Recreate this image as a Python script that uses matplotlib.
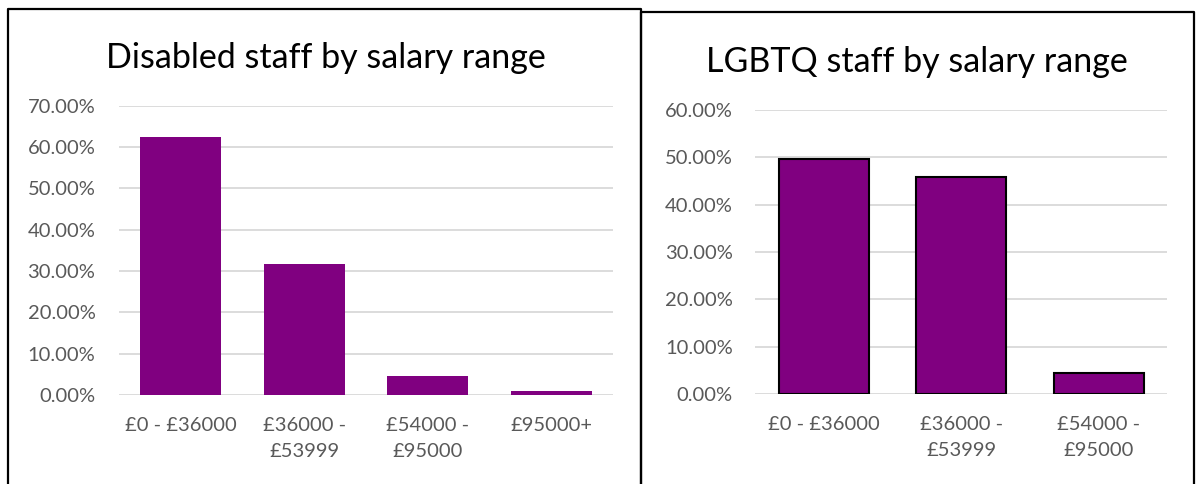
import matplotlib.pyplot as plt
from matplotlib.lines import Line2D
from matplotlib.ticker import FuncFormatter

# data
disabled_labels = ["£0 - £36000", "£36000 -\n£53999", "£54000 -\n£95000", "£95000+"]
disabled_values = [62.4, 31.8, 4.6, 0.9]

lgbtq_labels = ["£0 - £36000", "£36000 -\n£53999", "£54000 -\n£95000"]
lgbtq_values = [49.6, 45.9, 4.5]

purple = "#800080"
grid_col = "#d9d9d9"
text_col = "#595959"

plt.rcParams['font.family'] = ['Lato', 'DejaVu Sans']

W, H = 1197, 484
fig = plt.figure(figsize=(W / 100, H / 100), dpi=100)


def px_axes(x0, x1, y_top, y_bot):
    return fig.add_axes([x0 / W, (H - y_bot) / H, (x1 - x0) / W, (y_bot - y_top) / H])


def style(ax, labels, ymax, step, ypad):
    ax.set_xlim(-0.5, len(labels) - 0.5)
    ax.set_ylim(0, ymax)
    ax.set_yticks(range(0, ymax + 1, step))
    ax.yaxis.set_major_formatter(FuncFormatter(lambda v, p: f"{v:.2f}%"))
    ax.set_xticks(range(len(labels)))
    ax.set_xticklabels(labels, linespacing=1.65)
    for s in ax.spines.values():
        s.set_visible(False)
    ax.grid(axis='y', color=grid_col, linewidth=1.3)
    ax.set_axisbelow(True)
    ax.tick_params(length=0, labelsize=14.5, colors=text_col)
    ax.tick_params(axis='y', pad=ypad)
    ax.tick_params(axis='x', pad=16)
    for t in ax.get_xticklabels():
        t.set_verticalalignment('top')


# left chart
ax1 = px_axes(119, 613, 105.7, 395)
ax1.bar(range(len(disabled_values)), disabled_values, width=0.653, color=purple)
style(ax1, disabled_labels, 70, 10, 17)

# right chart
ax2 = px_axes(755, 1167.3, 110, 394)
ax2.bar(range(len(lgbtq_values)), lgbtq_values, width=0.655, color=purple,
        edgecolor='black', linewidth=1.5)
style(ax2, lgbtq_labels, 60, 10, 16)

fig.text(326 / W, 1 - 58 / H, "Disabled staff by salary range", ha='center', va='center',
         fontsize=24.5, color='black')
fig.text(917 / W, 1 - 62 / H, "LGBTQ staff by salary range", ha='center', va='center',
         fontsize=24.5, color='black')

# panel borders
def border(xs, ys):
    fig.add_artist(Line2D([x / W for x in xs], [1 - y / H for y in ys],
                          color='black', linewidth=1.6, transform=fig.transFigure))

border([8, 8, 641, 641], [H + 2, 9, 9, H + 2])
border([641, 641, 1194, 1194], [H + 2, 12, 12, H + 2])

fig.savefig("out.png", dpi=100)
